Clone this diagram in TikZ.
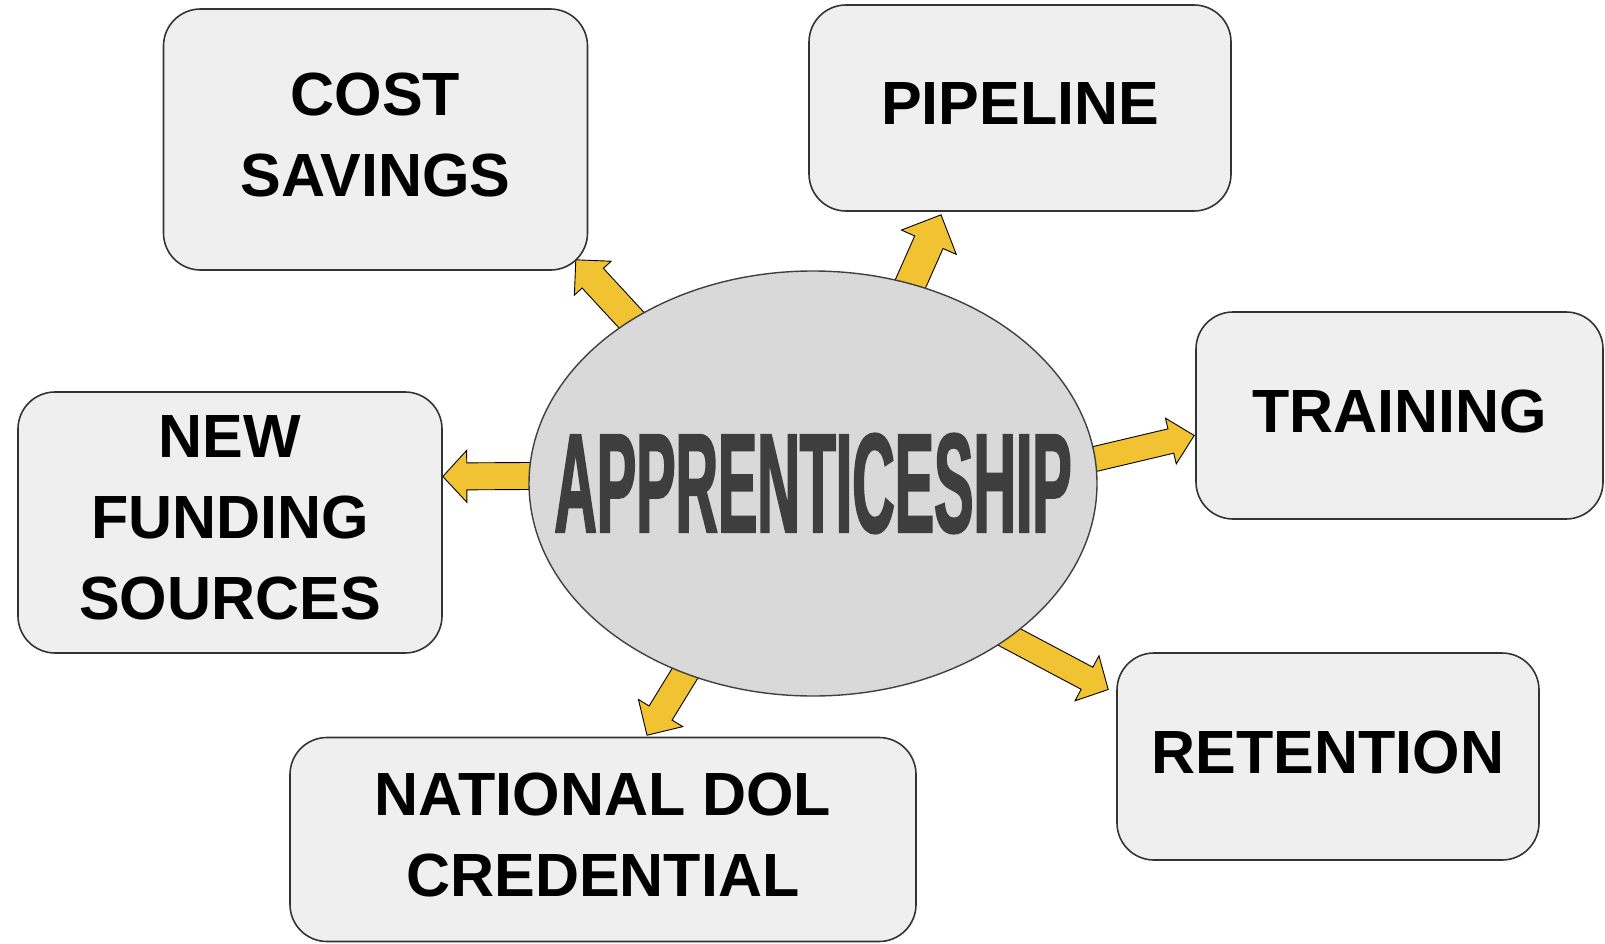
\documentclass[tikz,border=0pt]{standalone}
\usepackage{fontspec}
\newfontfamily\boxfont{Liberation Sans}
\newfontfamily\appfont{Liberation Sans}[FakeStretch=0.415,FakeBold=1.2]
\usetikzlibrary{calc,backgrounds,shapes.geometric}
\definecolor{boxgray}{HTML}{EFEFEF}
\definecolor{hubgray}{HTML}{D9D9D9}
\definecolor{textgray}{HTML}{3E3E3E}
\definecolor{arrowyellow}{HTML}{F1C232}

\begin{document}
\begin{tikzpicture}[x=1pt,y=-1pt,
    box node/.style={draw=black!80,line width=1.6pt,fill=boxgray,rounded corners=37pt,align=center,
      font=\boxfont\bfseries\fontsize{61}{81}\selectfont,text depth=9pt},
    hub node/.style={ellipse,draw=black!75,line width=1.4pt,fill=hubgray,inner sep=0pt},
    hub text/.style={inner sep=0pt,text=textgray,font=\appfont\bfseries\fontsize{142}{142}\selectfont},
    arrow body/.style={draw=black,line width=0.9pt,fill=arrowyellow,line join=miter}]
\useasboundingbox (0,0) rectangle (1605,944);

\node[hub node,minimum width=568pt,minimum height=425pt] (app) at (813,483.5) {};
\node[hub text] (apptext) at (app.center) {APPRENTICESHIP};

\node[box node,minimum width=424pt,minimum height=261pt] (cost)  at (375.5,139.5) {COST\\SAVINGS};
\node[box node,minimum width=422pt,minimum height=206pt] (pipe)  at (1020,108)    {PIPELINE};
\node[box node,minimum width=407pt,minimum height=207pt] (train) at (1399.5,415.5) {TRAINING};
\node[box node,minimum width=424pt,minimum height=261pt] (fund)  at (230,522.5)   {NEW\\FUNDING\\SOURCES};
\node[box node,minimum width=626pt,minimum height=204pt] (natl)  at (603,839.5)   {NATIONAL DOL\\CREDENTIAL};
\node[box node,minimum width=422pt,minimum height=207pt] (ret)   at (1328,756.5)  {RETENTION};

% arrow ends: on the hub, and next to each box
\coordinate (s1) at (app.138);
\coordinate (t1) at ($(cost.south east)+(-12.5,-11)$);
\coordinate (s2) at (app.64);
\coordinate (t2) at ($(pipe.south)+(-79,3)$);
\coordinate (s3) at (app.5);
\coordinate (t3) at ($(train.west)+(-1,20)$);
\coordinate (s4) at ($(app.west)+(0,-7.5)$);
\coordinate (t4) at ($(fund.east)+(0,-46)$);
\coordinate (s5) at (app.236);
\coordinate (t5) at ($(natl.north)+(44,-1.5)$);
\coordinate (s6) at (app.322);
\coordinate (t6) at ($(ret.west)+(-8,-67)$);

% half shaft, half head, head length
\begin{scope}[on background layer]
\foreach \i/\sw/\hw/\hl in {1/14.5/25/25, 2/15.5/30/30, 3/12.5/23.5/24, 4/13.5/26/24, 5/13.5/26/26, 6/12.5/25.5/24}{
  \coordinate (b\i) at ($(s\i)!-15pt!(t\i)$);
  \coordinate (h\i) at ($(t\i)!\hl pt!(s\i)$);
  \draw[arrow body] ($(b\i)!\sw pt!90:(t\i)$) -- ($(h\i)!\sw pt!90:(t\i)$) -- ($(h\i)!\hw pt!90:(t\i)$)
    -- (t\i) -- ($(h\i)!\hw pt!-90:(t\i)$) -- ($(h\i)!\sw pt!-90:(t\i)$) -- ($(b\i)!\sw pt!-90:(t\i)$) -- cycle;
}
\end{scope}
\end{tikzpicture}
\end{document}
